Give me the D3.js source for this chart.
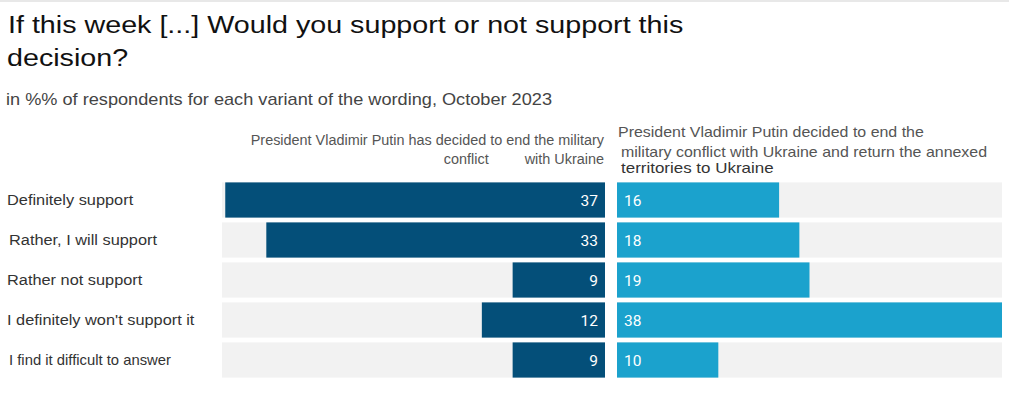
<!DOCTYPE html>
<html>
<head>
<meta charset="utf-8">
<script src="https://cdn.jsdelivr.net/npm/d3@7"></script>
<style>
  body { margin: 0; background: #fff; }
  text { font-family: "Liberation Sans", Arial, sans-serif; }
</style>
</head>
<body>
<div id="chart"></div>
<script>
// data
var categories = ["Definitely support", "Rather, I will support", "Rather not support",
                  "I definitely won't support it", "I find it difficult to answer"];
var endConflict = [37, 33, 9, 12, 9];
var returnTerritories = [16, 18, 19, 38, 10];
var leftHeader = ["President Vladimir Putin has decided to end the military", "conflict         with Ukraine"];
var rightHeader = ["President Vladimir Putin decided to end the", "military conflict with Ukraine and return the annexed", "territories to Ukraine"];

var w = 1009, h = 397;
var svg = d3.select("#chart").append("svg")
    .attr("width", w).attr("height", h);

svg.append("line").attr("x1", 0).attr("x2", w).attr("y1", 1).attr("y2", 1)
    .attr("stroke", "#e8e8e8").attr("stroke-width", 2);

// text stretched horizontally a bit, like the source picture
function label(g, x, y, sx, size, color, str, anchor){
    return g.append("text")
        .attr("transform", "translate(" + x + "," + y + ") scale(" + sx + ",1)")
        .attr("text-anchor", anchor || "start")
        .attr("xml:space", "preserve")
        .style("font-size", size + "px")
        .attr("fill", color)
        .text(str);
}

// titles
label(svg, 8, 33, 1.195, 24, "#111", "If this week [...] Would you support or not support this");
label(svg, 7, 66, 1.195, 24, "#111", "decision?");
label(svg, 6, 105, 1.135, 16, "#444", "in %% of respondents for each variant of the wording, October 2023");

// scales
var y = d3.scaleBand().domain(categories).range([180, 380]).paddingInner(0.12).paddingOuter(0.06);
var maxV = 38;
var xLeft = d3.scaleLinear().domain([0, maxV]).range([605, 215]);
var xRight = d3.scaleLinear().domain([0, maxV]).range([617, 1002]);

// row labels
var gLab = svg.append("g");
categories.forEach(function(d, i){
    var lx = (i == 1 || i == 4) ? 9 : 7;
    label(gLab, lx, y(d) + y.bandwidth()/2 + 5, i == 4 ? 1.06 : 1.09, i == 4 ? 14 : 15, "#333", d);
});

// left panel
var gl = svg.append("g");
gl.selectAll("rect.bg").data(categories).join("rect")
    .attr("class", "bg")
    .attr("x", 222).attr("width", xLeft(0) - 222)
    .attr("y", function(d){ return y(d); }).attr("height", y.bandwidth())
    .attr("fill", "#f2f2f2");
gl.selectAll("rect.bar").data(endConflict).join("rect")
    .attr("class", "bar")
    .attr("x", function(d){ return xLeft(d); })
    .attr("width", function(d){ return xLeft(0) - xLeft(d); })
    .attr("y", function(d, i){ return y(categories[i]); }).attr("height", y.bandwidth())
    .attr("fill", "#044f79");
gl.selectAll("text").data(endConflict).join("text")
    .attr("x", xLeft(0) - 7)
    .attr("y", function(d, i){ return y(categories[i]) + y.bandwidth()/2; })
    .attr("dy", "0.36em").attr("text-anchor", "end")
    .style("font-family", "Roboto, sans-serif").style("font-size", "15.5px")
    .attr("fill", "#fff")
    .text(function(d){ return d; });

// right panel
var gr = svg.append("g");
gr.selectAll("rect.bg").data(categories).join("rect")
    .attr("class", "bg")
    .attr("x", xRight(0)).attr("width", xRight(maxV) - xRight(0))
    .attr("y", function(d){ return y(d); }).attr("height", y.bandwidth())
    .attr("fill", "#f2f2f2");
gr.selectAll("rect.bar").data(returnTerritories).join("rect")
    .attr("class", "bar")
    .attr("x", xRight(0))
    .attr("width", function(d){ return xRight(d) - xRight(0); })
    .attr("y", function(d, i){ return y(categories[i]); }).attr("height", y.bandwidth())
    .attr("fill", "#1ba2cd");
gr.selectAll("text").data(returnTerritories).join("text")
    .attr("x", xRight(0) + 7)
    .attr("y", function(d, i){ return y(categories[i]) + y.bandwidth()/2; })
    .attr("dy", "0.36em")
    .style("font-family", "Roboto, sans-serif").style("font-size", "15.5px")
    .attr("fill", "#fff")
    .text(function(d){ return d; });

// column headers
var gh = svg.append("g");
label(gh, 604, 145, 1.03, 14, "#555", leftHeader[0], "end");
label(gh, 604, 164, 1.03, 14, "#555", leftHeader[1], "end");
label(gh, 618, 137, 1.14, 14, "#555", rightHeader[0]);
label(gh, 621, 157, 1.14, 14, "#555", rightHeader[1]);
label(gh, 621, 173, 1.13, 15, "#333", rightHeader[2]);
</script>
</body>
</html>
